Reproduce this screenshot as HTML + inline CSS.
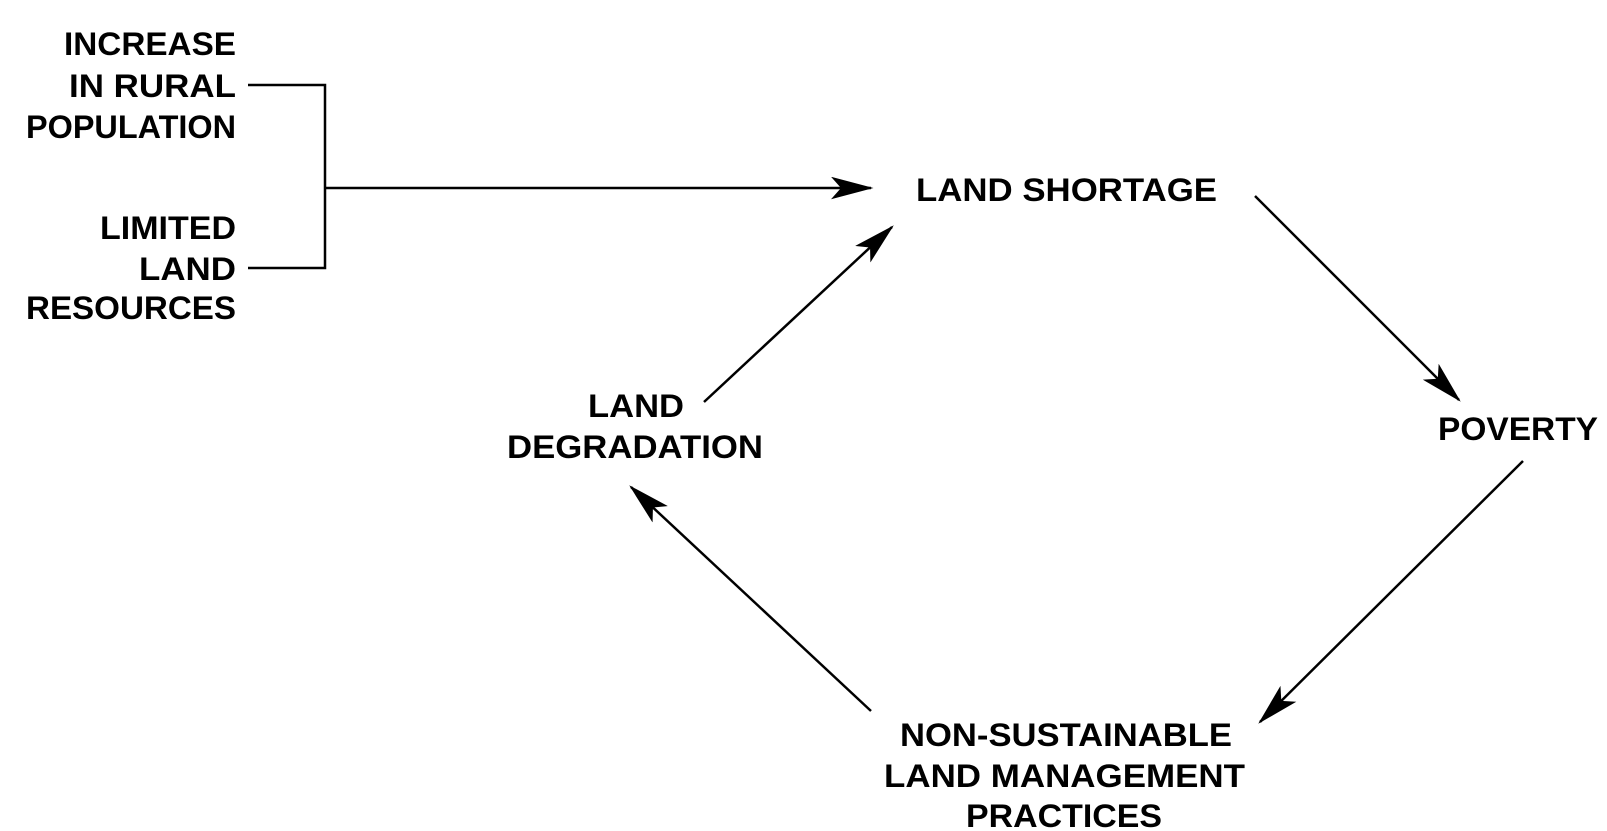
<!DOCTYPE html>
<html><head><meta charset="utf-8"><style>html,body{margin:0;padding:0;background:#fff}svg{display:block}</style></head>
<body>
<svg width="1607" height="831" viewBox="0 0 1607 831" xmlns="http://www.w3.org/2000/svg">
<defs>
<marker id="a" markerWidth="17" markerHeight="9" refX="16" refY="4.5" orient="auto" markerUnits="strokeWidth">
<path d="M0,0 L17,4.5 L0,9 L4,4.5 Z" fill="#000"/>
</marker>
</defs>
<g font-family="Liberation Sans, sans-serif" font-weight="bold" font-size="32" fill="#000">
<text x="64" y="55" textLength="172" lengthAdjust="spacingAndGlyphs">INCREASE</text>
<text x="69" y="97" textLength="167" lengthAdjust="spacingAndGlyphs">IN RURAL</text>
<text x="26" y="138" textLength="210" lengthAdjust="spacingAndGlyphs">POPULATION</text>
<text x="100" y="239" textLength="136" lengthAdjust="spacingAndGlyphs">LIMITED</text>
<text x="139" y="280" textLength="97" lengthAdjust="spacingAndGlyphs">LAND</text>
<text x="26" y="319" textLength="210" lengthAdjust="spacingAndGlyphs">RESOURCES</text>
<text x="916" y="201" textLength="301" lengthAdjust="spacingAndGlyphs">LAND SHORTAGE</text>
<text x="1438" y="440" textLength="160" lengthAdjust="spacingAndGlyphs">POVERTY</text>
<text x="588" y="417" textLength="96" lengthAdjust="spacingAndGlyphs">LAND</text>
<text x="507" y="458" textLength="256" lengthAdjust="spacingAndGlyphs">DEGRADATION</text>
<text x="900" y="746" textLength="332" lengthAdjust="spacingAndGlyphs">NON-SUSTAINABLE</text>
<text x="884" y="787" textLength="361" lengthAdjust="spacingAndGlyphs">LAND MANAGEMENT</text>
<text x="966" y="827" textLength="196" lengthAdjust="spacingAndGlyphs">PRACTICES</text>
</g>
<g stroke="#000" stroke-width="2.5" fill="none">
<polyline points="248,85 325,85 325,268 248,268"/>
<line x1="325" y1="188" x2="871" y2="188" marker-end="url(#a)"/>
<line x1="704" y1="402" x2="892" y2="227" marker-end="url(#a)"/>
<line x1="1255" y1="196" x2="1459" y2="400" marker-end="url(#a)"/>
<line x1="1523" y1="461" x2="1260" y2="722" marker-end="url(#a)"/>
<line x1="871" y1="711" x2="631" y2="487" marker-end="url(#a)"/>
</g>
</svg>
</body></html>
